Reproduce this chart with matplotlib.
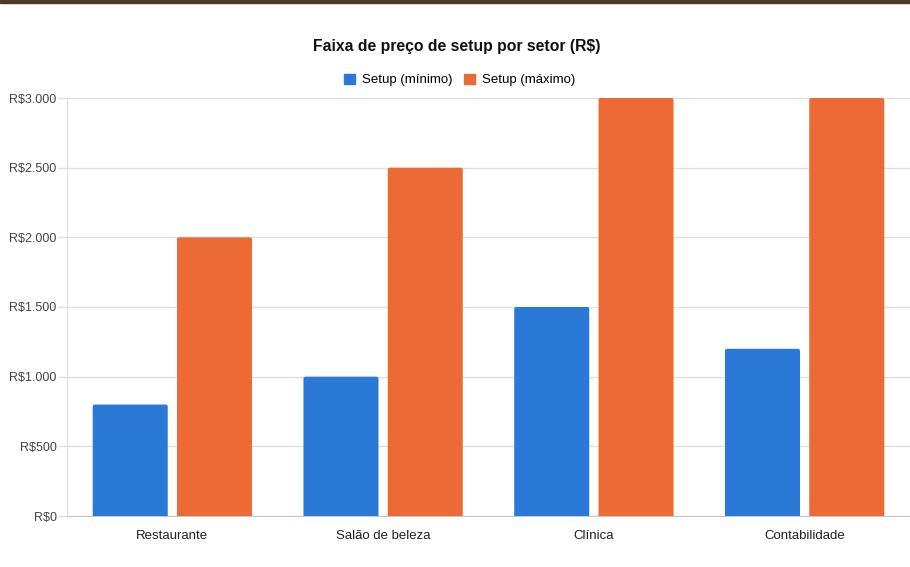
import matplotlib.pyplot as plt
from matplotlib.patches import Rectangle, Patch, FancyBboxPatch
from matplotlib.ticker import FuncFormatter
import numpy as np

plt.rcParams['font.family'] = ['Liberation Sans', 'DejaVu Sans']

setores = ['Restaurante', 'Salão de beleza', 'Clínica', 'Contabilidade']
setup_min = [800, 1000, 1500, 1200]
setup_max = [2000, 2500, 3000, 3000]
series = ['Setup (mínimo)', 'Setup (máximo)']
BLUE = '#2a79d6'
ORANGE = '#eb6a36'


def reais(v, pos):
    return 'R$' + f'{int(v):,}'.replace(',', '.')


fig = plt.figure(figsize=(9.1, 5.67), dpi=100)
ax = fig.add_axes([67 / 910, 1 - 516 / 567, 1 - 67 / 910, (516 - 98) / 567])

x = np.arange(len(setores))
w = 0.356
bars = list(ax.bar(x - 0.2, setup_min, w, color=BLUE, zorder=3)) + \
    list(ax.bar(x + 0.2, setup_max, w, color=ORANGE, zorder=3))

ax.set_xlim(-0.5, len(setores) - 0.5)
ax.set_ylim(0, 3000)

# cantos levemente arredondados (so em cima; a base fica cortada pelo eixo)
px_x = 1 / 210.5           # 1 px em unidades x
px_y = 3000 / 418          # 1 px em unidades y
for b in bars:
    bx, by, bw, bh = b.get_x(), b.get_y(), b.get_width(), b.get_height()
    r = FancyBboxPatch((bx, by - 5 * px_y), bw, bh + 5 * px_y,
                       boxstyle=f'round,pad=0,rounding_size={2 * px_x}',
                       mutation_aspect=px_y / px_x, facecolor=b.get_facecolor(),
                       linewidth=0, zorder=3, clip_on=True)
    ax.add_patch(r)
    b.remove()

ax.set_yticks(range(0, 3001, 500))
ax.yaxis.set_major_formatter(FuncFormatter(reais))
ax.set_xticks(x)
ax.set_xticklabels(setores, fontsize=9.5, color='#222222')
ax.tick_params(axis='x', length=0, pad=10)
ax.tick_params(axis='y', length=6.5, width=1, color='#e0e0e0', labelsize=9, labelcolor='#444444', pad=1)
ax.grid(axis='y', color='#e0e0e0', linewidth=1, zorder=0)

for s in ['top', 'right']:
    ax.spines[s].set_visible(False)
ax.spines['left'].set_color('#e0e0e0')
ax.spines['bottom'].set_color('#c8c8c8')

fig.text(0.502, 1 - 46 / 567, 'Faixa de preço de setup por setor (R$)',
         ha='center', va='center', fontsize=11.3, fontweight='bold', color='#111111')

handles = [Patch(color=BLUE, label=series[0]), Patch(color=ORANGE, label=series[1])]
fig.legend(handles=handles, loc='center', bbox_to_anchor=(0.505, 1 - 80 / 567), ncol=2,
           frameon=False, fontsize=9.5, handlelength=0.85, handleheight=0.85,
           handletextpad=0.5, columnspacing=0.9)

# faixa escura no topo
fig.add_artist(Rectangle((0, 1 - 3 / 567), 1, 3 / 567, transform=fig.transFigure,
                         color='#4b3a2b', zorder=10))

fig.savefig('out.png', dpi=100)
